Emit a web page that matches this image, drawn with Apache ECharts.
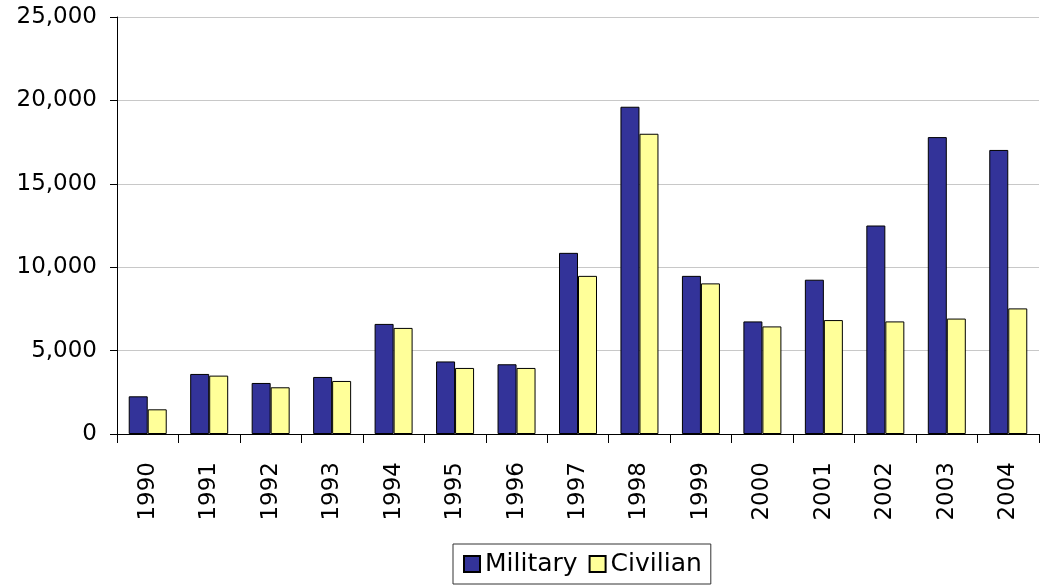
<!DOCTYPE html>
<html>
<head>
<meta charset="utf-8">
<script src="https://cdn.jsdelivr.net/npm/echarts@6/dist/echarts.min.js"></script>
<style>
  html, body { margin: 0; padding: 0; background: #fff; }
  #chart { width: 1042px; height: 587px; }
</style>
</head>
<body>
<div id="chart"></div>
<script>
// Personnel counts per year
const years = ['1990', '1991', '1992', '1993', '1994', '1995', '1996', '1997',
               '1998', '1999', '2000', '2001', '2002', '2003', '2004'];
const military = [2260, 3600, 3060, 3420, 6600, 4350, 4180, 10860,
                  19620, 9480, 6750, 9250, 12500, 17800, 17030];
const civilian = [1480, 3500, 2800, 3180, 6360, 3960, 3960, 9480,
                  18000, 9030, 6450, 6830, 6750, 6920, 7530];
const yTicks = [0, 5000, 10000, 15000, 20000, 25000];

const FONT = 'DejaVu Sans';
const chart = echarts.init(document.getElementById('chart'), null, { renderer: 'canvas' });

chart.setOption({
  animation: false,
  backgroundColor: '#ffffff',
  grid: { left: 117, right: 3, top: 17, bottom: 153, containLabel: false },
  legend: {
    left: 453,
    top: 544,
    padding: [7, 9, 7, 10],
    borderColor: '#333333',
    borderWidth: 1,
    itemWidth: 16,
    itemHeight: 16,
    itemGap: 11,
    icon: 'rect',
    textStyle: { fontFamily: FONT, fontSize: 25, color: '#000', lineHeight: 26 },
    data: ['Military', 'Civilian']
  },
  xAxis: {
    type: 'category',
    data: years,
    axisLine: { lineStyle: { color: '#000', width: 1 } },
    axisTick: { show: true, alignWithLabel: false, length: 9, lineStyle: { color: '#000' } },
    axisLabel: {
      rotate: 90,
      margin: 28,
      fontFamily: FONT,
      fontSize: 23,
      color: '#000',
      interval: 0
    },
    splitLine: { show: false }
  },
  yAxis: {
    type: 'value',
    min: yTicks[0],
    max: yTicks[yTicks.length - 1],
    interval: yTicks[1] - yTicks[0],
    axisLine: { show: true, lineStyle: { color: '#000', width: 1 } },
    axisTick: { show: true, length: 7, lineStyle: { color: '#000' } },
    axisLabel: {
      margin: 20,
      fontFamily: FONT,
      fontSize: 23,
      color: '#000',
      formatter: v => v.toLocaleString('en-US')
    },
    splitLine: { show: true, lineStyle: { color: '#c8c8c8', width: 1 } }
  },
  series: [
    {
      name: 'Military',
      type: 'bar',
      data: military,
      barWidth: 19,
      barGap: '0%',
      itemStyle: { color: '#333399', borderColor: '#000', borderWidth: 1 }
    },
    {
      name: 'Civilian',
      type: 'bar',
      data: civilian,
      barWidth: 19,
      barGap: '0%',
      itemStyle: { color: '#ffff99', borderColor: '#000', borderWidth: 1 }
    }
  ]
});
</script>
</body>
</html>
